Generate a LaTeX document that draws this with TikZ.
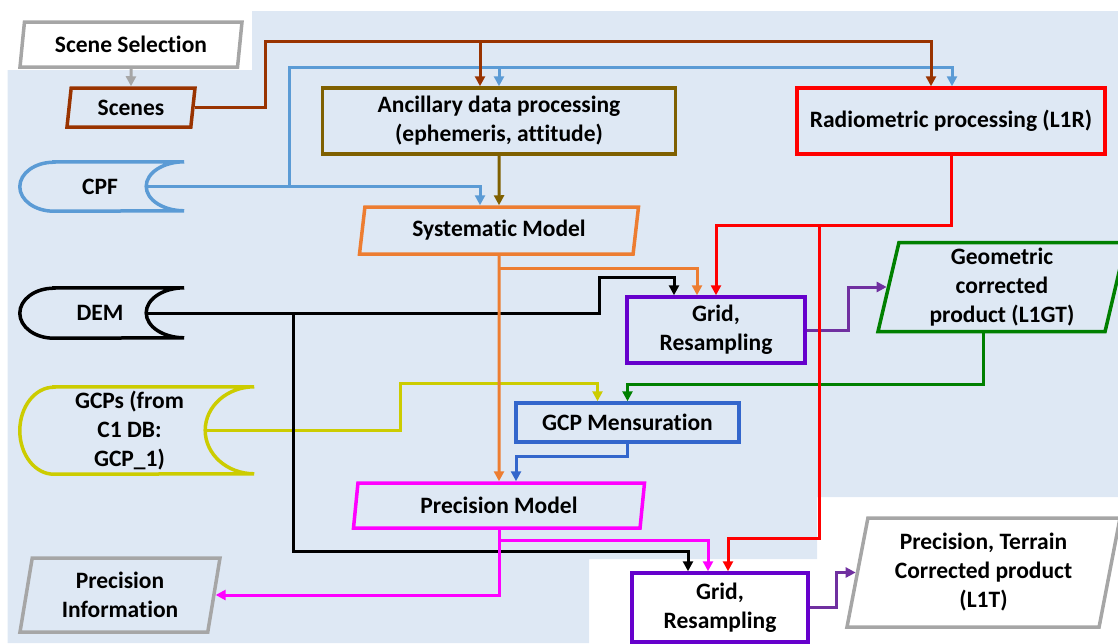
\documentclass[tikz,border=0pt]{standalone}
\usepackage{fontspec}
\setmainfont{Carlito}[Ligatures=NoCommon]
\usetikzlibrary{shapes.geometric, arrows.meta}

\definecolor{bgblue}{RGB}{222,232,244}
\definecolor{boxgray}{RGB}{166,166,166}
\definecolor{scenebrown}{RGB}{153,51,0}
\definecolor{cpfblue}{RGB}{91,155,213}
\definecolor{ancolive}{RGB}{127,96,0}
\definecolor{sysorange}{RGB}{237,125,49}
\definecolor{gcpyellow}{RGB}{204,204,0}
\definecolor{gridviolet}{RGB}{102,0,204}
\definecolor{linkpurple}{RGB}{112,48,160}
\definecolor{geomgreen}{RGB}{0,128,0}
\definecolor{mensblue}{RGB}{51,102,204}
\definecolor{precpink}{RGB}{255,0,255}
\definecolor{radred}{RGB}{255,0,0}

\begin{document}
\begin{tikzpicture}[x=1pt, y=-1pt, >={Triangle[length=10pt, width=10pt]},
    font=\fontsize{23.5}{29}\selectfont\bfseries,
    box/.style={draw, rectangle, line width=3.5pt, align=center, inner sep=0pt},
    para/.style={draw, trapezium, trapezium left angle=75, trapezium right angle=105,
        trapezium stretches body, line width=3.5pt, align=center, inner sep=0pt},
    store/.style={rectangle, align=center, inner sep=0pt},
    link/.style={line width=3pt, ->}]

    \useasboundingbox (0,0) rectangle (1118,643);

    % Background panel
    \fill[bgblue] (7.5,70) -- (252,70) -- (252,11) -- (1118,11) -- (1118,497) -- (817,497)
        -- (817,559) -- (589,559) -- (589,643) -- (7.5,643) -- cycle;

    % Define nodes in the left column (inputs)
    \node[para, draw=boxgray, minimum width=222pt, minimum height=45pt] (scenesel) at (131,44.5) {Scene Selection};
    \node[para, draw=scenebrown, minimum width=128pt, minimum height=39pt] (scenes) at (131,107.5) {Scenes};
    \node[store, minimum width=92pt, minimum height=49pt] (cpf) at (100,186.5) {CPF};
    \node[store, minimum width=92pt, minimum height=50pt] (dem) at (100,313) {DEM};
    \node[store, minimum width=151pt, minimum height=87pt] (gcps) at (129.5,430.5) {GCPs (from\\C1 DB:\\GCP\_1)};
    \node[para, draw=boxgray, minimum width=200pt, minimum height=74pt] (precinfo) at (120,595) {Precision\\Information};

    % Stored data outlines
    \foreach \n/\c/\r/\h in {cpf/cpfblue/38pt/24.5pt, dem/black/38pt/25pt, gcps/gcpyellow/49pt/43.5pt}
        \draw[\c, line width=3.5pt] (\n.north west) -- ([xshift=\r]\n.north east)
            arc[start angle=90, end angle=270, x radius=\r, y radius=\h]
            -- (\n.south west) arc[start angle=270, end angle=90, x radius=34pt, y radius=\h] -- cycle;

    % Define nodes in the middle column
    \node[box, draw=ancolive, minimum width=353pt, minimum height=66pt] (ancillary) at (499,121) {Ancillary data processing\\(ephemeris, attitude)};
    \node[para, draw=sysorange, minimum width=279pt, minimum height=47pt] (sysmodel) at (499,230.5) {Systematic Model};
    \node[box, draw=mensblue, minimum width=223pt, minimum height=39pt] (gcpmens) at (627.5,422.5) {GCP Mensuration};
    \node[para, draw=precpink, minimum width=291pt, minimum height=45pt] (precmodel) at (499,505.5) {Precision Model};
    \node[box, draw=gridviolet, minimum width=178pt, minimum height=66pt] (grid1) at (716,330) {Grid,\\Resampling};
    \node[box, draw=gridviolet, minimum width=176pt, minimum height=69pt] (grid2) at (720,607.5) {Grid,\\Resampling};

    % Define nodes in the right column (outputs)
    \node[box, draw=radred, minimum width=308pt, minimum height=66pt] (radio) at (951,121) {Radiometric processing (L1R)};
    \node[para, draw=geomgreen, minimum width=248pt, minimum height=89pt] (geom) at (1002,287) {Geometric\\corrected\\product (L1GT)};
    \node[para, draw=boxgray, minimum width=273pt, minimum height=109pt] (l1t) at (983.5,572.5) {Precision, Terrain\\Corrected product\\(L1T)};

    % Draw arrows from the inputs
    \draw[link, boxgray] (scenesel) -- (scenes);
    \draw[link, gcpyellow] (gcps.east) -| (400,383) -| ([xshift=-30pt]gcpmens.north);
    \draw[link, black] (dem.east) -| (599,277) -| ([xshift=-42pt]grid1.north);
    \draw[link, black] (293,313) -- (293,551) -| ([xshift=-32pt]grid2.north);
    \draw[link, cpfblue] (cpf.east) -| ([xshift=-19pt]sysmodel.north);
    \draw[link, cpfblue] (289,186.5) -- (289,67) -| ([xshift=1pt]radio.north);
    \draw[link, cpfblue] (499,67) -- (ancillary.north);
    \draw[link, scenebrown] (scenes.east) -| (265,41) -| ([xshift=-20pt]radio.north);
    \draw[link, scenebrown] (480,41) -- ([xshift=-19pt]ancillary.north);

    % Draw arrows between the processing steps
    \draw[link, ancolive] (ancillary) -- (sysmodel);
    \draw[link, sysorange] (sysmodel) -- (precmodel);
    \draw[link, sysorange] (499,268) -| ([xshift=-19pt]grid1.north);
    \draw[link, linkpurple] (grid1.east) -- ++(42,0) |- (geom.west);
    \draw[link, geomgreen] ([xshift=-19pt]geom.south) -- ++(0,51) -| (gcpmens.north);
    \draw[link, mensblue] (gcpmens.south) -- ++(0,13) -| ([xshift=17pt]precmodel.north);
    \draw[link, radred] (radio.south) -- ++(0,70) -| (grid1.north);
    \draw[link, radred] (819,224) -- (819,538) -| ([xshift=8pt]grid2.north);
    \draw[link, precpink] (precmodel.south) |- (precinfo.east);
    \draw[link, precpink] (499,540) -| ([xshift=-12pt]grid2.north);
    \draw[link, linkpurple] (grid2.east) -- ++(27,0) |- (l1t.west);

\end{tikzpicture}
\end{document}
